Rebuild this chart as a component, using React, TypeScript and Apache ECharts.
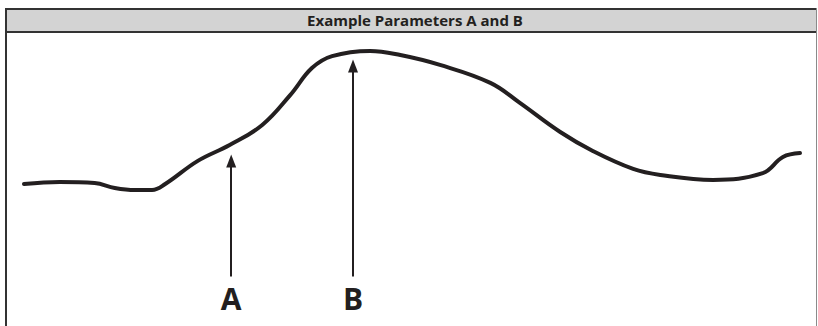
import React, { useEffect, useRef } from "react";
import * as echarts from "echarts";

const TITLE = "Example Parameters A and B";
const xValues = [0, 4.6, 9.1, 11.7, 14.3, 16.5, 18.2, 22.4, 26.5, 30.7, 34.3, 37.1, 39.7, 44.6, 48.5, 53.6, 60.1, 63.9, 69.1, 73.3, 78.5, 82.0, 88.8, 95.2, 97.8, 100];
const yValues = [44.6, 45.4, 45.0, 43.1, 42.3, 42.3, 44.6, 53.5, 59.6, 67.3, 78.8, 89.2, 93.8, 95.8, 94.2, 90.4, 83.5, 75.8, 64.6, 57.3, 50.4, 48.1, 46.2, 48.8, 55.0, 56.5];
const markerNames = ["A", "B"];
const markerX = [26.7, 42.4];
const markerBase = [9, 9];
const markerTip = [53.5, 90];

export default function App() {
  const ref = useRef<HTMLDivElement>(null);
  useEffect(() => {
    if (!ref.current) return;
    const chart = echarts.init(ref.current, null, { renderer: "svg" });
    const ink = "#231f20";
    const data = xValues.map((x, i) => [x, yValues[i]]);
    const markData = markerNames.map((n, i) => [
      { name: n, coord: [markerX[i], markerBase[i]] },
      { coord: [markerX[i], markerTip[i]] },
    ]);
    chart.setOption({
      animation: false,
      backgroundColor: "#ffffff",
      title: {
        text: TITLE,
        left: 415,
        textAlign: "center",
        top: 11,
        padding: 0,
        textStyle: { fontFamily: "Open Sans", fontWeight: "bold", fontSize: 15, color: ink, lineHeight: 18 },
      },
      graphic: [
        { type: "rect", shape: { x: 5, y: 9, width: 811, height: 23 }, style: { fill: "#d3d3d3" }, z: -10 },
        { type: "line", shape: { x1: 5, y1: 9, x2: 817, y2: 9 }, style: { stroke: "#333333", lineWidth: 2 } },
        { type: "line", shape: { x1: 5, y1: 32, x2: 817, y2: 32 }, style: { stroke: "#333333", lineWidth: 2 } },
        { type: "line", shape: { x1: 6, y1: 8, x2: 6, y2: 326 }, style: { stroke: "#333333", lineWidth: 2 } },
        { type: "line", shape: { x1: 816.5, y1: 8, x2: 816.5, y2: 326 }, style: { stroke: "#8a8a8a", lineWidth: 1 } },
      ],
      grid: { left: 24, right: 18, top: 40, bottom: 26, containLabel: false },
      xAxis: { type: "value", min: 0, max: 100, show: false },
      yAxis: { type: "value", min: 0, max: 100, show: false },
      series: [
        {
          type: "line",
          data,
          smooth: 0.4,
          symbol: "none",
          lineStyle: { color: ink, width: 4, cap: "round", join: "round" },
          silent: true,
          markLine: {
            silent: true,
            symbol: ["none", "triangle"],
            symbolSize: [10, 13],
            lineStyle: { color: ink, width: 2, type: "solid" },
            label: {
              show: true,
              position: "start",
              formatter: (p: any) => p.name,
              distance: 7,
              fontFamily: "Open Sans",
              fontWeight: "bold",
              fontSize: 30,
              color: ink,
            },
            data: markData,
          },
        },
      ],
    });
    return () => chart.dispose();
  }, []);
  return <div ref={ref} style={{ position: "fixed", left: 0, top: 0, width: 818, height: 326 }} />;
}
